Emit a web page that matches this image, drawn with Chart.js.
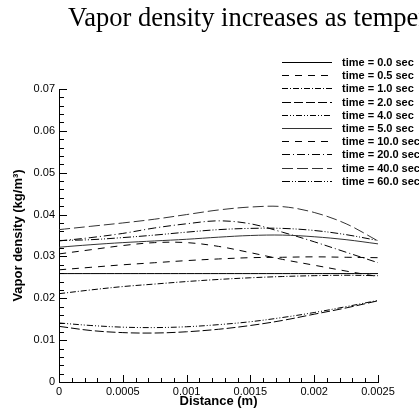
<!DOCTYPE html>
<html>
<head>
<meta charset="utf-8">
<script src="https://cdn.jsdelivr.net/npm/chart.js@4.4.1/dist/chart.umd.min.js"></script>
<style>
  html, body { margin: 0; padding: 0; background: #fff; }
  #wrap { width: 419px; height: 408px; position: relative; overflow: hidden; }
</style>
</head>
<body>
<div id="wrap"><canvas id="vaporChart" width="419" height="408"></canvas></div>
<script>
// distance (m) where each curve is sampled
const distance = [0, 0.00025, 0.0005, 0.00075, 0.001, 0.00125, 0.0015, 0.00175, 0.002, 0.00225, 0.0025];

const timeLabels = ['time = 0.0 sec', 'time = 0.5 sec', 'time = 1.0 sec', 'time = 2.0 sec', 'time = 4.0 sec',
    'time = 5.0 sec', 'time = 10.0 sec', 'time = 20.0 sec', 'time = 40.0 sec', 'time = 60.0 sec'];

// vapor density (kg/m3) per time
const t0  = [0.0259, 0.0259, 0.0259, 0.0259, 0.0259, 0.0259, 0.0259, 0.0259, 0.0259, 0.0259, 0.0259];
const t05 = [0.0268, 0.0274, 0.0280, 0.0285, 0.0290, 0.0294, 0.0297, 0.0298, 0.0299, 0.0298, 0.0297];
const t1  = [0.0211, 0.0220, 0.0228, 0.0234, 0.0240, 0.0245, 0.0249, 0.0252, 0.0254, 0.0255, 0.0254];
const t2  = [0.0133, 0.0123, 0.0118, 0.0117, 0.0120, 0.0126, 0.0135, 0.0147, 0.0162, 0.0177, 0.0194];
const t4  = [0.0141, 0.0135, 0.0131, 0.0130, 0.0132, 0.0137, 0.0144, 0.0154, 0.0166, 0.0180, 0.0195];
const t5  = [0.0322, 0.0328, 0.0333, 0.0337, 0.0341, 0.0346, 0.0350, 0.0351, 0.0347, 0.0340, 0.0330];
const t10 = [0.0306, 0.0316, 0.0326, 0.0333, 0.0333, 0.0324, 0.0309, 0.0293, 0.0279, 0.0265, 0.0252];
const t20 = [0.0337, 0.0345, 0.0355, 0.0368, 0.0378, 0.0385, 0.0378, 0.0358, 0.0335, 0.0310, 0.0285];
const t40 = [0.0364, 0.0372, 0.0380, 0.0389, 0.0400, 0.0411, 0.0418, 0.0419, 0.0405, 0.0378, 0.0337];
const t60 = [0.0338, 0.0340, 0.0345, 0.0351, 0.0358, 0.0364, 0.0367, 0.0367, 0.0362, 0.0352, 0.0338];

const xTicks = [0, 0.0005, 0.001, 0.0015, 0.002, 0.0025];
const xTickText = ['0', '0.0005', '0.001', '0.0015', '0.002', '0.0025'];
const yTicks = [0, 0.01, 0.02, 0.03, 0.04, 0.05, 0.06, 0.07];
const yTickText = ['0', '0.01', '0.02', '0.03', '0.04', '0.05', '0.06', '0.07'];

const series = [t0, t05, t1, t2, t4, t5, t10, t20, t40, t60];
const dashes = [[], [7, 6], [6, 2, 1, 2], [9, 3], [6, 2, 1, 2, 1, 2],
    [], [7, 6], [8, 3, 1, 3], [11, 4], [8, 2, 1, 2, 1, 2]];
const colors = ['#000', '#000', '#000', '#000', '#000', '#333', '#000', '#000', '#333', '#000'];

const sans = 'Liberation Sans, Arial, sans-serif';

// title, cut off on the right like the source image
const titlePlugin = {
    id: 'bigTitle',
    afterDraw(chart) {
        const c = chart.ctx;
        c.save();
        c.fillStyle = '#000';
        c.font = '26.5px "Liberation Serif", "Times New Roman", serif';
        c.textBaseline = 'alphabetic';
        c.textAlign = 'left';
        c.fillText('Vapor density increases as temperature increases', 68, 26);
        c.restore();
    }
};

// inward major/minor tick marks
const tickPlugin = {
    id: 'inTicks',
    afterDraw(chart) {
        const c = chart.ctx;
        const xs = chart.scales.x, ys = chart.scales.y;
        const bottom = chart.chartArea.bottom, left = chart.chartArea.left;
        c.save();
        c.strokeStyle = '#000';
        c.lineWidth = 1;
        c.beginPath();
        for (let i = 0; i <= 25; i++) {
            const px = Math.round(xs.getPixelForValue(i * 0.0001)) + 0.5;
            const len = i % 5 === 0 ? 7 : 4;
            c.moveTo(px, bottom);
            c.lineTo(px, bottom - len);
        }
        for (let i = 0; i <= 35; i++) {
            const py = Math.round(ys.getPixelForValue(i * 0.002)) + 0.5;
            const len = i % 5 === 0 ? 8 : 5;
            c.moveTo(left, py);
            c.lineTo(left + len, py);
        }
        c.stroke();
        c.restore();
    }
};

// legend in the top right corner, line sample then label
const legendPlugin = {
    id: 'cornerLegend',
    afterDraw(chart) {
        const c = chart.ctx;
        c.save();
        c.font = 'bold 11px ' + sans;
        c.textBaseline = 'middle';
        c.textAlign = 'left';
        chart.data.datasets.forEach(function(ds, i) {
            const y = Math.round(62 + i * 13.2) + 0.5;
            c.strokeStyle = ds.borderColor;
            c.lineWidth = ds.borderWidth;
            c.setLineDash(ds.borderDash);
            c.beginPath();
            c.moveTo(282, y);
            c.lineTo(332, y);
            c.stroke();
            c.setLineDash([]);
            c.fillStyle = '#000';
            c.fillText(ds.label, 342, y);
        });
        c.restore();
    }
};

const datasets = series.map(function(vals, i) {
    return {
        label: timeLabels[i],
        data: distance.map((d, k) => ({x: d, y: vals[k]})),
        borderColor: colors[i],
        borderWidth: 1,
        borderDash: dashes[i],
        pointRadius: 0,
        tension: 0.35,
        fill: false
    };
});

new Chart(document.getElementById('vaporChart'), {
    type: 'line',
    data: { datasets: datasets },
    options: {
        responsive: false,
        animation: false,
        layout: { padding: { left: 0, right: 41, top: 89, bottom: 0 } },
        plugins: { legend: { display: false }, tooltip: { enabled: false } },
        scales: {
            x: {
                type: 'linear',
                min: 0,
                max: 0.0025,
                afterFit: function(s) { s.height = 26; },
                afterBuildTicks: function(s) { s.ticks = xTicks.map(v => ({value: v})); },
                grid: { display: false, drawTicks: false },
                border: { display: true, color: '#000', width: 1 },
                ticks: {
                    padding: 3,
                    color: '#000',
                    maxRotation: 0,
                    font: { family: sans, size: 11 },
                    callback: function(v) { const k = xTicks.indexOf(v); return k >= 0 ? xTickText[k] : ''; }
                },
                title: {
                    display: true,
                    text: 'Distance (m)',
                    color: '#000',
                    font: { family: sans, size: 13, weight: 'bold', lineHeight: 1 },
                    padding: { top: 0, bottom: 0 }
                }
            },
            y: {
                type: 'linear',
                min: 0,
                max: 0.07,
                afterFit: function(s) { s.width = 59; },
                afterBuildTicks: function(s) { s.ticks = yTicks.map(v => ({value: v})); },
                grid: { display: false, drawTicks: false },
                border: { display: true, color: '#000', width: 1 },
                ticks: {
                    padding: 4,
                    color: '#000',
                    font: { family: sans, size: 11 },
                    callback: function(v) { const k = yTicks.indexOf(v); return k >= 0 ? yTickText[k] : ''; }
                },
                title: {
                    display: true,
                    text: 'Vapor density (kg/m³)',
                    color: '#000',
                    font: { family: sans, size: 13, weight: 'bold', lineHeight: 1 },
                    padding: { top: 12, bottom: 0 }
                }
            }
        }
    },
    plugins: [titlePlugin, tickPlugin, legendPlugin]
});
</script>
</body>
</html>
